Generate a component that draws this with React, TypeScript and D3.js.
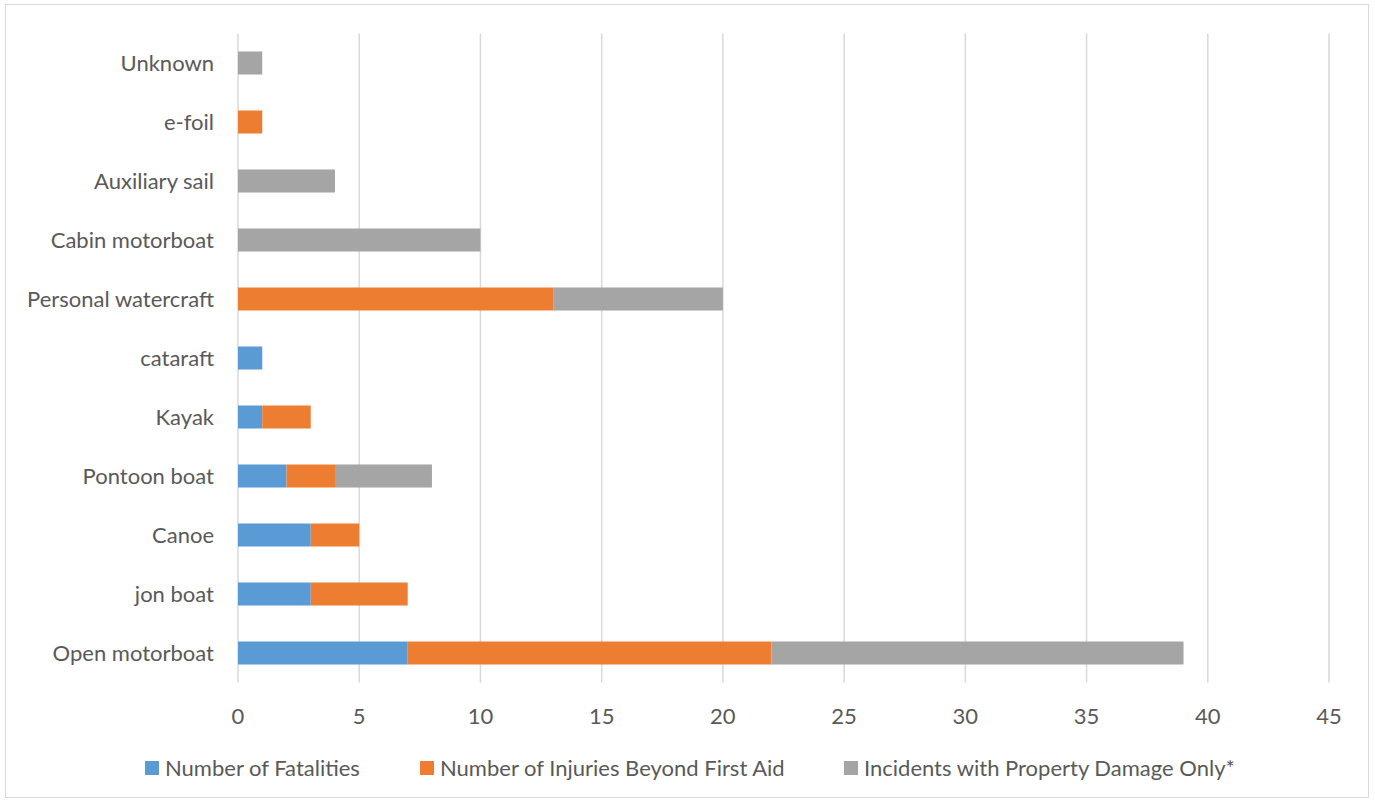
import React from "react";
import * as d3 from "d3";

const categories = [
  "Open motorboat",
  "jon boat",
  "Canoe",
  "Pontoon boat",
  "Kayak",
  "cataraft",
  "Personal watercraft",
  "Cabin motorboat",
  "Auxiliary sail",
  "e-foil",
  "Unknown",
];
const fatalities = [7, 3, 3, 2, 1, 1, 0, 0, 0, 0, 0];
const injuries = [15, 4, 2, 2, 2, 0, 13, 0, 0, 1, 0];
const propertyDamage = [17, 0, 0, 4, 0, 0, 7, 10, 4, 0, 1];
const seriesNames = [
  "Number of Fatalities",
  "Number of Injuries Beyond First Aid",
  "Incidents with Property Damage Only*",
];
const xTicks = [0, 5, 10, 15, 20, 25, 30, 35, 40, 45];

const colors = ["#5B9BD5", "#ED7D31", "#A5A5A5"];
const FONT = "Lato, 'Open Sans', sans-serif";
const FS = 22;

export default function App() {
  const W = 1375;
  const H = 803;
  const left = 238;
  const right = 1329;
  const top = 33.5;
  const bottom = 682.5;

  const x = d3.scaleLinear().domain([0, 45]).range([left, right]);
  const y = d3
    .scaleBand<string>()
    .domain([...categories].reverse())
    .range([top, bottom])
    .paddingInner(0.61)
    .paddingOuter(0.305);

  const rows = categories.map((c, i) => ({
    cat: c,
    0: fatalities[i],
    1: injuries[i],
    2: propertyDamage[i],
  }));
  const stack = d3.stack<any>().keys(["0", "1", "2"]);
  const stacked = stack(rows as any);

  const legendItems = [
    { sx: 145, tx: 165 },
    { sx: 420, tx: 440 },
    { sx: 844, tx: 864 },
  ];

  return (
    <div style={{ position: "absolute", left: 0, top: 0 }}>
      <svg width={W} height={H} style={{ display: "block", background: "#fff" }}>
        <rect x={5.5} y={4.5} width={1363} height={793} fill="#fff" stroke="#D9D9D9" strokeWidth={1} />
        {xTicks.map((t) => (
          <line key={t} x1={x(t)} x2={x(t)} y1={top} y2={bottom} stroke="#D9D9D9" strokeWidth={1.5} />
        ))}
        {stacked.map((s, si) => (
          <g key={si} fill={colors[si]}>
            {s.map((d: any, i: number) =>
              d[1] - d[0] > 0 ? (
                <rect
                  key={i}
                  x={x(d[0])}
                  y={y(d.data.cat)!}
                  width={x(d[1]) - x(d[0])}
                  height={y.bandwidth()}
                />
              ) : null
            )}
          </g>
        ))}
        {categories.map((c) => (
          <text
            key={c}
            x={214}
            y={y(c)! + y.bandwidth() / 2}
            dy="0.35em"
            textAnchor="end"
            fontFamily={FONT}
            fontSize={FS}
            fill="#595959"
          >
            {c}
          </text>
        ))}
        {xTicks.map((t) => (
          <text
            key={t}
            x={x(t)}
            y={716}
            dy="0.35em"
            textAnchor="middle"
            fontFamily={FONT}
            fontSize={FS}
            fill="#595959"
          >
            {t}
          </text>
        ))}
        {seriesNames.map((n, i) => (
          <g key={n}>
            <rect x={legendItems[i].sx} y={761} width={14} height={14} fill={colors[i]} />
            <text
              x={legendItems[i].tx}
              y={768}
              dy="0.35em"
              fontFamily={FONT}
              fontSize={FS}
              fill="#595959"
            >
              {n}
            </text>
          </g>
        ))}
      </svg>
    </div>
  );
}
